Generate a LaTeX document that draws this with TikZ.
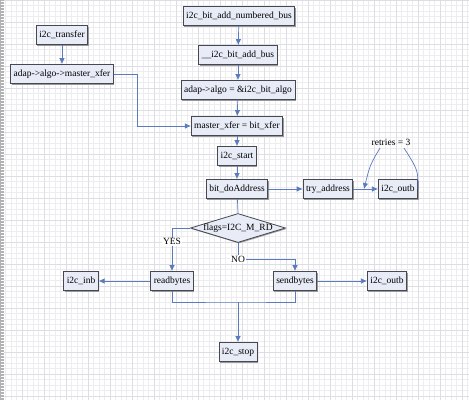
\documentclass[tikz,border=0pt]{standalone}
\usepackage{fontspec}
\setmainfont{Liberation Serif}
\usetikzlibrary{shapes.geometric, shadows, arrows.meta}
\definecolor{boxfill}{RGB}{232,236,247}
\definecolor{boxline}{RGB}{70,72,82}
\definecolor{flowblue}{RGB}{92,122,190}
\definecolor{gridgray}{RGB}{214,216,222}

\begin{document}
\begin{tikzpicture}[
  x=1pt, y=-1pt,
  box/.style={draw=boxline, fill=boxfill, line width=0.8pt, font=\fontsize{9.5}{11}\selectfont,
    inner xsep=3pt, inner ysep=0pt, minimum height=19pt,
    drop shadow={shadow xshift=1pt, shadow yshift=-1pt, fill=gray!80, opacity=1}},
  decision/.style={diamond, draw=boxline, fill=boxfill, line width=0.8pt, inner sep=0pt,
    minimum width=95pt, minimum height=29pt,
    drop shadow={shadow xshift=1pt, shadow yshift=-1pt, fill=gray!80, opacity=1}},
  lbl/.style={font=\fontsize{9.5}{11}\selectfont, inner sep=1pt},
  flow/.style={draw=flowblue, line width=0.7pt},
  arrow/.style={flow, -{Latex[length=6pt, width=5.5pt]}},
]
\useasboundingbox (0,0) rectangle (469,400);

% Grid paper
\fill[white] (0,0) rectangle (469,400);
\draw[gridgray!45, line width=0.3pt, step=5.5pt] (0,0) grid (469,400);
\draw[gridgray!85, line width=0.4pt, step=22pt] (0,0) grid (469,400);
\fill[gray!60] (0,0) rectangle (4,400);
\foreach \y in {1,4,...,400} \draw[white, line width=0.8pt] (0.5,\y) -- (3.5,\y);

% Bus registration
\node[box] (numbered) at (239,16) {i2c\_bit\_add\_numbered\_bus};
\node[box] (addbus) at (238,55) {\_\_i2c\_bit\_add\_bus};
\node[box] (algo) at (238,90) {adap->algo = \&i2c\_bit\_algo};
\node[box] (xfer) at (237,126) {master\_xfer = bit\_xfer};

\draw[arrow] (numbered) -- (addbus);
\draw[arrow] (addbus) -- (algo);
\draw[arrow] (algo) -- (xfer);

% Caller side
\node[box] (transfer) at (62,35) {i2c\_transfer};
\node[box] (masterptr) at (62,74) {adap->algo->master\_xfer};

\draw[arrow] (transfer) -- (masterptr);
\draw[arrow] (masterptr.east) -- ++(24,0) |- (xfer.west);

% Start and address
\node[box] (start) at (237,156) {i2c\_start};
\node[box] (doaddr) at (237,189) {bit\_doAddress};
\node[box] (tryaddr) at (328,189) {try\_address};
\node[box] (outbtop) at (398,189) {i2c\_outb};
\node[lbl] (retries) at (391,142) {retries = 3};
\coordinate (retryin) at (364,189);

\draw[arrow] (xfer) -- (start);
\draw[arrow] (start) -- (doaddr);
\draw[arrow] (doaddr) -- (tryaddr);
\draw[arrow] (tryaddr) -- (outbtop);
\draw[flow] (outbtop.east) .. controls (418,170) .. (404,148);
\draw[arrow] (380,148) .. controls (370,165) .. (retryin);

% Read or write
\node[decision] (flags) at (238,228) {};
\node[lbl] (flagstext) at (flags) {flags=I2C\_M\_RD};
\draw[flow] (doaddr) -- (flags.north);

\node[box] (readbytes) at (172,281) {readbytes};
\node[box] (inb) at (81,281) {i2c\_inb};
\node[box] (sendbytes) at (295,281) {sendbytes};
\node[box] (outbbot) at (387,281) {i2c\_outb};
\coordinate (nocorner) at (238,259);

\draw[arrow] (flags.west) -| node[lbl, pos=0.66, fill=white] {YES} (readbytes.north);
\draw[arrow] (flags.south) -- (nocorner) -| (sendbytes.north);
\node[lbl, fill=white] (no) at (nocorner) {NO};
\draw[arrow] (readbytes) -- (inb);
\draw[arrow] (sendbytes) -- (outbbot);

% Stop
\node[box] (stop) at (238,352) {i2c\_stop};
\coordinate (join) at (238,302);
\draw[flow] (readbytes.south) |- (join) -| (sendbytes.south);
\draw[arrow] (join) -- (stop);
\end{tikzpicture}
\end{document}
